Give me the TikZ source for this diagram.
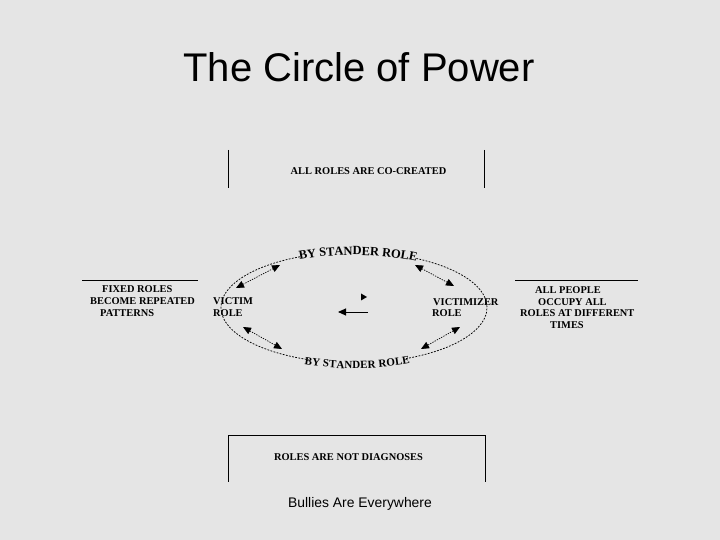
\documentclass[tikz,border=0pt]{standalone}
\usepackage{fontspec}
\setmainfont{Liberation Serif}
\newfontfamily\titlefont{Liberation Sans}
\usetikzlibrary{arrows.meta,decorations.text,calc}
\definecolor{bgcol}{RGB}{229,229,229}
\tikzset{
  lbl/.style={font=\rmfamily\fontsize{10.4}{11}\selectfont\bfseries, inner sep=0pt, anchor=west},
  clbl/.style={font=\rmfamily\fontsize{10.4}{11}\selectfont\bfseries, inner sep=0pt},
  rule/.style={line width=1pt},
  ell/.style={line width=0.75pt, dash pattern=on 1.8pt off 1.4pt},
  dbl/.style={line width=0.7pt, dash pattern=on 1.3pt off 1.2pt,
    {Triangle[length=8pt,width=7pt]}-{Triangle[length=8pt,width=7pt]}},
}
\newcommand{\arcfontA}{\rmfamily\fontsize{12.5}{13}\selectfont\bfseries}
\newcommand{\arcfontB}{\rmfamily\fontsize{11}{11}\selectfont\bfseries}
\begin{document}
\begin{tikzpicture}[x=1pt,y=1pt]
\fill[bgcol] (0,0) rectangle (720,540);
\useasboundingbox (0,0) rectangle (720,540);

% title
\node[font=\titlefont\fontsize{40}{44}\selectfont, anchor=base, inner sep=0pt] (title) at (359,458) {The Circle of Power};

% top box
\draw[rule] (228,390) -- (228,352);
\draw[rule] (484,390) -- (484,352);
\node[clbl] (cocreated) at (368.5,368.5) {ALL ROLES ARE CO-CREATED};

% bottom box
\draw[rule] (228,58) -- (228,104) -- (485,104) -- (485,58);
\node[clbl] (notdiag) at (348.5,83) {ROLES ARE NOT DIAGNOSES};

% footer
\node[font=\titlefont\fontsize{13.9}{15}\selectfont, anchor=base, inner sep=0pt] (footer) at (360,32) {Bullies Are Everywhere};

% ellipse
\coordinate (C) at (354,232.5);
\draw[ell] (C) ++(114:133 and 55.5) arc[start angle=114, end angle=250, x radius=133, y radius=55.5];
\draw[ell] (C) ++(293:133 and 55.5) arc[start angle=293, end angle=422, x radius=133, y radius=55.5];

% arc texts
\path[decorate, decoration={text along path, text align=center, raise=-3pt,
  text={|\arcfontA|BY STANDER ROLE}}]
  (C) ++(116:133 and 55.5) arc[start angle=116, end angle=60, x radius=133, y radius=55.5];
\path[decorate, decoration={text along path, text align=center, raise=-5.5pt,
  text={|\arcfontB|BY STANDER ROLE}}]
  (C) ++(249:133 and 55.5) arc[start angle=249, end angle=294, x radius=133, y radius=55.5];

% side labels
\node[lbl] (victim) at (213,239) {VICTIM};
\node[lbl] (victimrole) at (213,227) {ROLE};
\node[lbl] (victimizer) at (433,238) {VICTIMIZER};
\node[lbl] (victimizerrole) at (432,226.5) {ROLE};

% left block
\draw[rule] (82,259) -- (198,259);
\node[lbl] (fixed) at (102,251) {FIXED ROLES};
\node[lbl] (become) at (90,239) {BECOME REPEATED};
\node[lbl] (patterns) at (100,227) {PATTERNS};

% right block
\draw[rule] (515,259) -- (638,259);
\node[lbl] (allpeople) at (535,250) {ALL PEOPLE};
\node[lbl] (occupy) at (538,238) {OCCUPY ALL};
\node[lbl] (rolesat) at (520,226.5) {ROLES AT DIFFERENT};
\node[lbl] (times) at (550,215) {TIMES};

% double-headed dotted arrows
\coordinate (a1) at (280,275); \coordinate (b1) at (236,252);
\coordinate (a2) at (415,275); \coordinate (b2) at (454,254);
\coordinate (a3) at (243,213); \coordinate (b3) at (282,191);
\coordinate (a4) at (460,213); \coordinate (b4) at (421,191);
\draw[dbl] (a1) -- (b1);
\draw[dbl] (a2) -- (b2);
\draw[dbl] (a3) -- (b3);
\draw[dbl] (a4) -- (b4);

% centre marks
\fill (361,246.5) -- (367,243) -- (361,239.5) -- cycle;
\coordinate (cs) at (368,228); \coordinate (ce) at (338,228);
\draw[line width=0.9pt, -{Triangle[length=8pt,width=7pt]}] (cs) -- (ce);
\end{tikzpicture}
\end{document}
